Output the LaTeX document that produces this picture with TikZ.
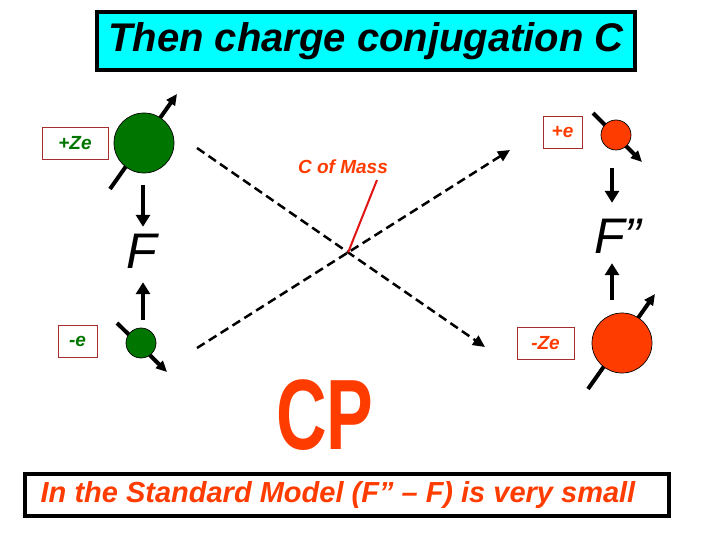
\documentclass[tikz,border=0pt]{standalone}
\usepackage{fontspec}
\setmainfont{Liberation Sans}
\usetikzlibrary{arrows.meta}
\definecolor{cyanbox}{RGB}{0,255,255}
\definecolor{nucgreen}{RGB}{0,118,0}
\definecolor{hotred}{RGB}{255,60,0}
\definecolor{boxred}{RGB}{165,45,45}
\definecolor{pointred}{RGB}{225,20,20}
\begin{document}
\begin{tikzpicture}[x=1pt, y=-1pt,
        heading/.style={draw=black, line width=4pt, fill=cyanbox, minimum width=538pt, minimum height=58pt, inner sep=0pt, font=\fontsize{40}{46}\selectfont\bfseries\itshape},
        verdict/.style={draw=black, line width=4pt, fill=white, minimum width=644pt, minimum height=42pt, inner sep=0pt, text=hotred, font=\fontsize{29}{34}\selectfont\bfseries\itshape},
        charge/.style={draw=boxred, line width=0.8pt, minimum height=32pt, inner sep=0pt, font=\fontsize{19}{22}\selectfont\bfseries\itshape},
        nucleus/.style={circle, draw=black, line width=0.7pt, minimum size=60pt, inner sep=0pt},
        lepton/.style={nucleus, minimum size=30pt},
        spin/.style={-{Triangle[length=11pt,width=10pt]}, line width=4pt},
        force/.style={-{Triangle[length=12pt,width=14pt]}, line width=4pt},
        flabel/.style={anchor=base, inner sep=0pt, font=\fontsize{50}{58}\selectfont\itshape},
        track/.style={-{Triangle[length=12pt,width=11pt]}, line width=2.5pt, dash pattern=on 9pt off 5pt},
        pointer/.style={pointred, line width=2pt}
    ]
        \useasboundingbox (0,0) rectangle (720,540);

        % Title
        \node[heading] (title) at (366,41) {Then charge conjugation C};

        % Left: nucleus and electron
        \coordinate (zs0) at (110,189);
        \coordinate (zs1) at (177,94);
        \draw[spin] (zs0) -- (zs1);
        \node[nucleus, fill=nucgreen] (zg) at (144,143) {};
        \node[charge, text=nucgreen, minimum width=66pt] (zglab) at (75,143) {+Ze};

        \coordinate (es0) at (117,323);
        \coordinate (es1) at (167,372);
        \draw[spin] (es0) -- (es1);
        \node[lepton, fill=nucgreen] (eg) at (141,343) {};
        \node[charge, text=nucgreen, minimum width=39pt] (eglab) at (77.5,341) {-e};

        \node[flabel, text height=41pt, text depth=14pt] (F) at (142,268) {F};
        \coordinate (ftop) at (143,185);
        \coordinate (fbot) at (143,320);
        \draw[force] (ftop) -- (ftop |- F.north);
        \draw[force] (fbot) -- (fbot |- F.south);

        % Right: positron and antinucleus
        \coordinate (ps0) at (593,113);
        \coordinate (ps1) at (642,162);
        \draw[spin] (ps0) -- (ps1);
        \node[lepton, fill=hotred] (er) at (616,135) {};
        \node[charge, text=hotred, minimum width=39pt] (erlab) at (562.5,132) {+e};

        \coordinate (as0) at (588,389);
        \coordinate (as1) at (655,294);
        \draw[spin] (as0) -- (as1);
        \node[nucleus, fill=hotred] (zr) at (622,343) {};
        \node[charge, text=hotred, minimum width=57pt] (zrlab) at (545.5,343) {-Ze};

        \node[flabel, text height=50pt, text depth=10pt] (Fpp) at (618,253) {F”};
        \coordinate (rtop) at (612,168);
        \coordinate (rbot) at (612,300);
        \draw[force] (rtop) -- (rtop |- Fpp.north);
        \draw[force] (rbot) -- (rbot |- Fpp.south);

        % Crossing tracks and centre of mass
        \coordinate (a0) at (197,148);
        \coordinate (a1) at (485,347);
        \coordinate (b0) at (197,348);
        \coordinate (b1) at (510,150);
        \draw[track] (a0) -- (a1);
        \draw[track] (b0) -- (b1);
        \coordinate (cm) at (intersection of a0--a1 and b0--b1);
        \node[text=hotred, font=\fontsize{19}{22}\selectfont\bfseries\itshape] (mass) at (343,167) {C of Mass};
        \coordinate (tag) at (377,180);
        \draw[pointer] (tag) -- (cm);

        \node[text=hotred, font=\fontsize{100}{110}\selectfont\bfseries] (cp) at (325,415) {\scalebox{0.7}[1]{CP}};

        % Bottom line
        \node[verdict] (sm) at (347,495) {\hspace*{-18pt}In the Standard Model (F” – F) is very small};
    \end{tikzpicture}
\end{document}
